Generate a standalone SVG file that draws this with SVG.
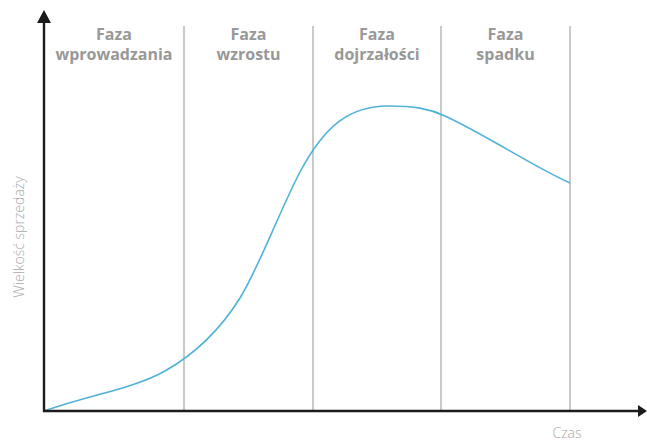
<svg xmlns="http://www.w3.org/2000/svg" width="647" height="443" viewBox="0 0 647 443">
<defs>
<style>
.phase{font-family:"Open Sans","Liberation Sans",sans-serif;font-weight:700;font-size:16px;fill:#989898;text-anchor:middle}
.axislabel{font-family:"Open Sans","Liberation Sans",sans-serif;font-weight:300;font-size:14px;fill:#a8a8a8;text-anchor:middle}
.grid{stroke:#c9c9c9;stroke-width:2;fill:none}
.axis{stroke:#1b1b1b;stroke-width:2.4;fill:none}
.curve{stroke:#4fb2d8;stroke-width:1.6;fill:none}
</style>
</defs>
<rect width="647" height="443" fill="#ffffff"/>
<g id="grid">
<line class="grid" x1="184" y1="26" x2="184" y2="411"/>
<line class="grid" x1="313" y1="26" x2="313" y2="411"/>
<line class="grid" x1="441" y1="26" x2="441" y2="411"/>
<line class="grid" x1="570" y1="26" x2="570" y2="411"/>
</g>
<g id="phase1">
<text class="phase" x="114" y="40">Faza</text>
<text class="phase" x="114" y="60">wprowadzania</text>
</g>
<g id="phase2">
<text class="phase" x="248.5" y="40">Faza</text>
<text class="phase" x="248.5" y="60">wzrostu</text>
</g>
<g id="phase3">
<text class="phase" x="377" y="40">Faza</text>
<text class="phase" x="377" y="60">dojrzałości</text>
</g>
<g id="phase4">
<text class="phase" x="505.5" y="40">Faza</text>
<text class="phase" x="505.5" y="60">spadku</text>
</g>
<g id="connectors">
<path class="curve" d="M44,411 C90,395 135,388 165,371 C195,354 220,330 240,298 C260,265 280,210 300,172 C325,125 350,106 388,106 C415,106 430,109 445,116 C490,137 530,165 570,183"/>
<line class="axis" x1="44" y1="412" x2="44" y2="20"/>
<line class="axis" x1="43" y1="411" x2="639" y2="411"/>
<polygon points="44,10 37,23 51,23" fill="#1b1b1b"/>
<polygon points="647,411 638,405 638,417" fill="#1b1b1b"/>
</g>
<g id="labels">
<text class="axislabel" x="0" y="0" transform="translate(24,237) rotate(-90)">Wielkość sprzedaży</text>
<text class="axislabel" x="567" y="438">Czas</text>
</g>
</svg>
